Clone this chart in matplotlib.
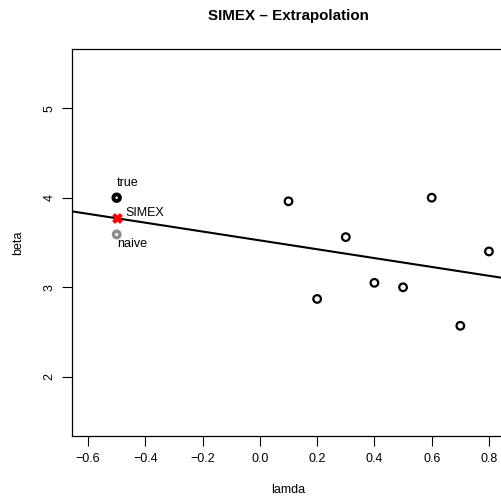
import numpy as np
import matplotlib
matplotlib.use("Agg")
import matplotlib.pyplot as plt

plt.rcParams['font.family'] = ['Liberation Sans', 'DejaVu Sans']

# simulated estimates for each lambda
lamda = [0.1, 0.2, 0.3, 0.4, 0.5, 0.6, 0.7, 0.8]
beta = [3.96, 2.87, 3.56, 3.05, 3.00, 4.00, 2.57, 3.40]

# reference values at lambda = -1/2 position
ref_x = -0.5
beta_true = 4.0
beta_naive = 3.59

# linear extrapolation fit
slope, intercept = np.polyfit(lamda, beta, 1)
beta_simex = intercept + slope * ref_x

W, H = 502, 504
fig = plt.figure(figsize=(W / 100, H / 100), dpi=100)
ax = fig.add_axes([72 / W, (H - 436) / H, (505 - 72) / W, (436 - 49) / H])

ax.scatter(lamda, beta, s=30, facecolors="none", edgecolors="black", linewidths=1.6, zorder=3)

xs = np.array([-1.0, 1.5])
ax.plot(xs, intercept + slope * xs, color="black", lw=1.5, zorder=2)

ax.scatter([ref_x], [beta_true], s=22, facecolors="none", edgecolors="black", linewidths=2.8, zorder=4)
ax.scatter([ref_x], [beta_naive], s=22, facecolors="none", edgecolors="#8c8c8c", linewidths=2.4, zorder=4)
ax.scatter([ref_x], [beta_simex], s=32, marker="x", color="red", linewidths=3, zorder=5)

fs = 9
ax.text(ref_x, beta_true + 0.16, "true", fontsize=fs, ha="left", va="center")
ax.text(ref_x + 0.03, beta_simex + 0.06, "SIMEX", fontsize=fs, ha="left", va="center")
ax.text(ref_x, beta_naive - 0.11, "naive", fontsize=fs, ha="left", va="center")

ax.set_xlim(-0.656, 0.856)
ax.set_ylim(1.34, 5.66)
ax.set_xticks([-0.6, -0.4, -0.2, 0.0, 0.2, 0.4, 0.6, 0.8])
ax.set_xticklabels(["\u22120.6", "\u22120.4", "\u22120.2", "0.0", "0.2", "0.4", "0.6", "0.8"])
ax.set_yticks([2, 3, 4, 5])
ax.tick_params(axis="both", length=7, width=0.8, labelsize=fs, pad=5)
for lab in ax.get_yticklabels():
    lab.set_rotation(90)
    lab.set_va("center")
for sp in ax.spines.values():
    sp.set_linewidth(0.9)
ax.spines["right"].set_visible(False)

fig.text(288.5 / W, 1 - 16 / H, "SIMEX \u2013 Extrapolation", fontsize=10.9, fontweight="bold",
         ha="center", va="center")
fig.text(288.5 / W, 1 - 490 / H, "lamda", fontsize=fs, ha="center", va="center")
fig.text(18 / W, 1 - 243 / H, "beta", fontsize=fs, ha="center", va="center", rotation=90)

fig.savefig("out.png", dpi=100)
